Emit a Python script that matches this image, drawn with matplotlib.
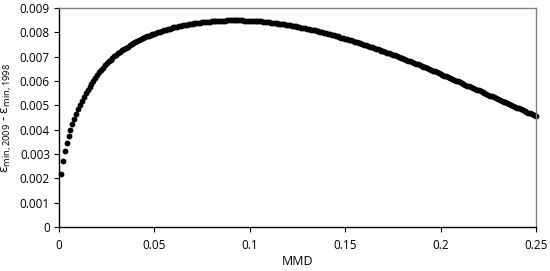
import numpy as np
import matplotlib.pyplot as plt

# MMD values (step 0.001, 0.001 .. 0.250)
mmd = np.round(np.arange(1, 251) * 0.001, 3)

# eps_min,2009 - eps_min,1998, in units of 1e-5
diff_e5 = [
    218, 271, 311, 345, 374, 400, 423, 444, 464, 483,
    501, 518, 534, 549, 563, 576.5, 589.5, 602, 614, 625,
    635.5, 645.5, 655, 664, 672.5, 680.5, 688, 695, 701.7, 708,
    714.1, 720, 725.6, 731, 736.2, 741.2, 746.1, 750.8, 755.4, 760,
    764.3, 768.4, 772.3, 776, 779.5, 782.9, 786.1, 789.2, 792.1, 795,
    797.8, 800.5, 803.1, 805.7, 808.2, 810.7, 813.1, 815.4, 817.7, 820,
    822, 823.9, 825.7, 827.4, 829, 830.6, 832.1, 833.5, 834.8, 836,
    837.2, 838.3, 839.3, 840.3, 841.2, 842.1, 842.9, 843.6, 844.3, 845,
    845.7, 846.3, 846.9, 847.4, 847.9, 848.3, 848.6, 848.8, 848.9, 849,
    849.1, 849.1, 849.1, 849.0, 848.9, 848.8, 848.6, 848.4, 848.2, 848,
    847.6, 847.1, 846.6, 846, 845.3, 844.6, 843.8, 843, 842.1, 841,
    840.1, 839.1, 838.1, 837, 835.9, 834.8, 833.6, 832.4, 831.2, 830,
    828.7, 827.3, 825.9, 824.4, 822.9, 821.4, 819.8, 818.2, 816.6, 815,
    813.3, 811.5, 809.7, 807.8, 805.9, 804, 802, 800, 798, 796,
    793.9, 791.8, 789.7, 787.5, 785.3, 783.1, 780.9, 778.6, 776.3, 774,
    771.6, 769.2, 766.8, 764.3, 761.8, 759.3, 756.8, 754.2, 751.6, 749,
    746.4, 743.8, 741.1, 738.4, 735.7, 733, 730.3, 727.6, 724.8, 722,
    719.2, 716.4, 713.5, 710.6, 707.7, 704.8, 701.9, 699, 696, 693,
    690, 687, 683.9, 680.8, 677.7, 674.6, 671.5, 668.4, 665.3, 662,
    658.8, 655.6, 652.3, 649, 645.7, 642.4, 639.1, 635.8, 632.4, 629,
    625.6, 622.2, 618.8, 615.4, 612, 608.6, 605.2, 601.8, 598.4, 595,
    591.6, 588.2, 584.8, 581.4, 578, 574.6, 571.2, 567.8, 564.4, 561,
    557.5, 554, 550.5, 547, 543.5, 540, 536.5, 533, 529.5, 526,
    522.5, 519, 515.5, 512, 508.5, 505, 501.5, 498, 494.5, 491,
    487.5, 484, 480.5, 477, 473.5, 470, 466.5, 463, 459.5, 456,
]

xticks = [0, 0.05, 0.1, 0.15, 0.2, 0.25]
xticklabels = ['0', '0.05', '0.1', '0.15', '0.2', '0.25']
yticks = [0, 0.001, 0.002, 0.003, 0.004, 0.005, 0.006, 0.007, 0.008, 0.009]
yticklabels = ['0', '0.001', '0.002', '0.003', '0.004', '0.005',
               '0.006', '0.007', '0.008', '0.009']

plt.rcParams['font.family'] = ['Open Sans', 'DejaVu Sans']
plt.rcParams['mathtext.default'] = 'regular'

fig = plt.figure(figsize=(5.5, 2.71), dpi=100)
ax = fig.add_axes([0.1073, 0.1624, 0.8672, 0.8081])

ax.plot(mmd, np.array(diff_e5) * 1e-5, 'o', color='black', markersize=4.2,
        markeredgewidth=0, clip_on=False)

ax.set_xlim(0, 0.25)
ax.set_ylim(0, 0.009)
ax.set_xticks(xticks)
ax.set_xticklabels(xticklabels)
ax.set_yticks(yticks)
ax.set_yticklabels(yticklabels)
ax.tick_params(labelsize=8.5, length=3.5, width=0.8, color='black', pad=3)
ax.tick_params(axis='x', pad=5)

for side in ['top', 'right']:
    ax.spines[side].set_color('#808080')
    ax.spines[side].set_linewidth(1.0)
for side in ['left', 'bottom']:
    ax.spines[side].set_color('black')
    ax.spines[side].set_linewidth(1.0)

ax.set_xlabel('MMD', fontsize=9, labelpad=2)
ax.set_ylabel('ε$_{min,2009}$ - ε$_{min, 1998}$', fontsize=9.5, labelpad=5)

fig.savefig('out.png', dpi=100)
